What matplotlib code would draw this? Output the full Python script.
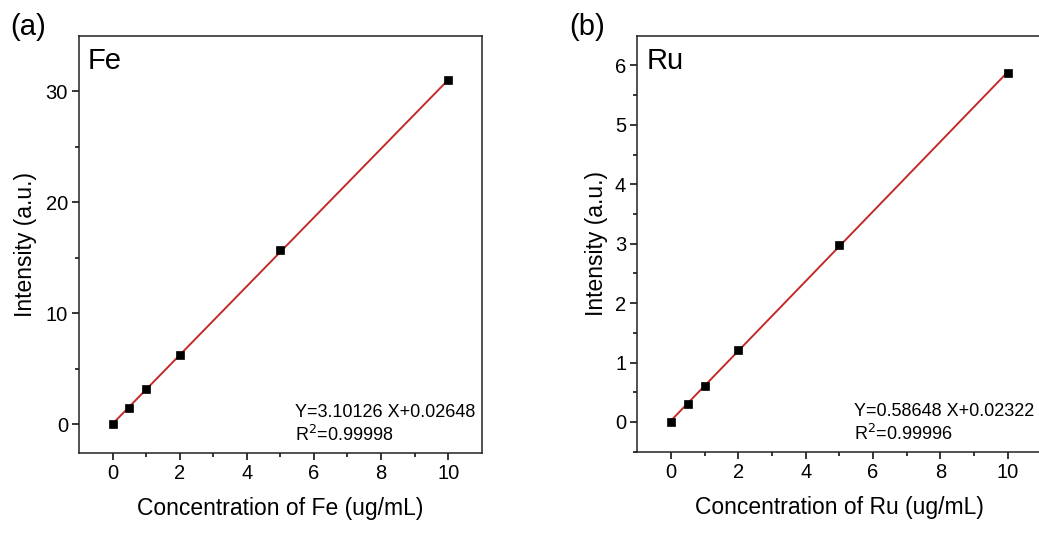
import numpy as np
import matplotlib
matplotlib.use("Agg")
import matplotlib.pyplot as plt

plt.rcParams['font.family'] = ['Liberation Sans', 'DejaVu Sans']

# Data
conc = [0, 0.5, 1, 2, 5, 10]
fe_intensity = [0.0, 1.50, 3.13, 6.28, 15.66, 31.0]
ru_intensity = [0.0, 0.31, 0.61, 1.21, 2.985, 5.87]
fe_fit = (3.10126, 0.02648)
ru_fit = (0.58648, 0.02322)
fe_eq = ["Y=3.10126 X+0.02648", "R$^2$=0.99998"]
ru_eq = ["Y=0.58648 X+0.02322", "R$^2$=0.99996"]
x_ticks = [0, 2, 4, 6, 8, 10]
fe_yticks = [0, 10, 20, 30]
ru_yticks = [0, 1, 2, 3, 4, 5, 6]

W, H = 1039, 533
fig = plt.figure(figsize=(W / 100, H / 100), dpi=100)

def make_panel(rect, y, fit, eq, elem, yticks, ylim, yminor, letter, letter_xy, ylab_x):
    ax = fig.add_axes(rect)
    xs = np.array([conc[0], conc[-1]])
    ax.plot(xs, fit[0] * xs + fit[1], color='#c42a2a', lw=1.4, zorder=2)
    ax.plot(conc, y, 's', color='black', ms=5.2, mew=0.5, zorder=3)
    ax.set_xlim(-1, 11)
    ax.set_ylim(*ylim)
    ax.set_xticks(x_ticks)
    ax.set_xticks([1, 3, 5, 7, 9], minor=True)
    ax.set_yticks(yticks)
    ax.set_yticks(yminor, minor=True)
    ax.tick_params(which='both', direction='out', labelsize=14.5, width=1.1,
                   top=False, right=False, pad=3)
    ax.tick_params(which='major', length=5)
    ax.tick_params(which='minor', length=3)
    for s in ax.spines.values():
        s.set_linewidth(1.1)
        s.set_color('#222222')
    ax.set_xlabel(f"Concentration of {elem} (ug/mL)", fontsize=16.5)
    ax.set_ylabel("Intensity (a.u.)", fontsize=16.5)
    ax.xaxis.set_label_coords(0.5, -0.105)
    ax.yaxis.set_label_coords(ylab_x, 0.5)
    ax.text(0.022, 0.92, elem, transform=ax.transAxes, fontsize=21, va='baseline')
    ax.text(0.536, 0.087, eq[0], transform=ax.transAxes, fontsize=13, va='baseline')
    ax.text(0.536, 0.029, eq[1], transform=ax.transAxes, fontsize=13, va='baseline')
    fig.text(letter_xy[0], letter_xy[1], letter, fontsize=21, va='baseline')
    return ax

make_panel([79 / W, 1 - 453 / H, 402.7 / W, 417 / H], fe_intensity, fe_fit, fe_eq, "Fe",
           fe_yticks, (-2.6, 35), [5, 15, 25], "(a)", (10 / W, 1 - 35 / H), -0.104)
make_panel([637.3 / W, 1 - 452.3 / H, 404 / W, 416.6 / H], ru_intensity, ru_fit, ru_eq, "Ru",
           ru_yticks, (-0.51, 6.5), [-0.5, 0.5, 1.5, 2.5, 3.5, 4.5, 5.5], "(b)",
           (569 / W, 1 - 35 / H), -0.0725)

fig.savefig("out.png", dpi=100)
